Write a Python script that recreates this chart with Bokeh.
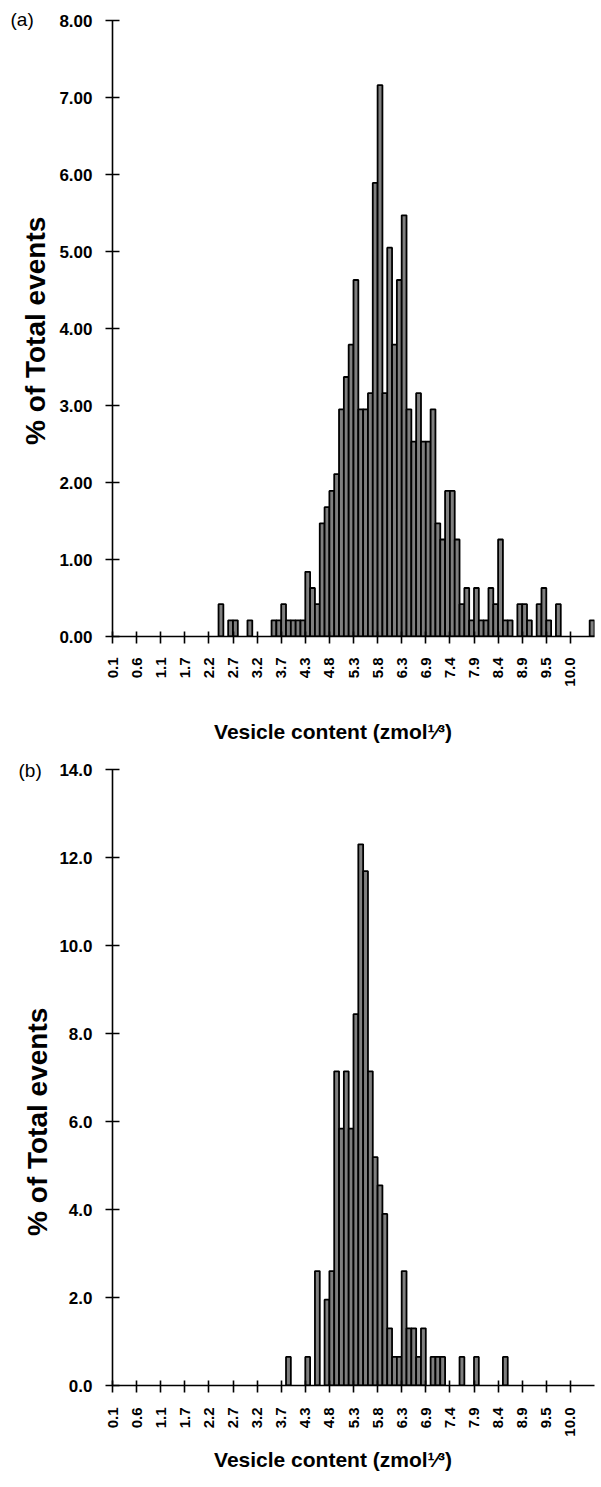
from bokeh.plotting import figure
from bokeh.layouts import column
from bokeh.models import (ColumnDataSource, FixedTicker, NumeralTickFormatter,
                          Range1d, Title)
from bokeh.embed import file_html
from bokeh.resources import INLINE

# ---------------- data ----------------
n_bins = 100
x_tick_bins = list(range(0, 100, 5))
x_tick_labels = ["0.1", "0.6", "1.1", "1.7", "2.2", "2.7", "3.2", "3.7", "4.3", "4.8",
                 "5.3", "5.8", "6.3", "6.9", "7.4", "7.9", "8.4", "8.9", "9.5", "10.0"]

# panel (a): bin index -> % of total events (non-empty bins)
a_bins = [22, 24, 25, 28, 33, 34, 35, 36, 37, 38, 39,
          40, 41, 42, 43, 44, 45, 46, 47, 48, 49,
          50, 51, 52, 53, 54, 55, 56, 57, 58, 59,
          60, 61, 62, 63, 64, 65, 66, 67, 68, 69,
          70, 71, 72, 73, 74, 75, 76, 77, 78, 79,
          80, 81, 82, 84, 85, 86, 88, 89, 90, 92, 99]
a_pct = [0.42, 0.21, 0.21, 0.21, 0.21, 0.21, 0.42, 0.21, 0.21, 0.21, 0.21,
         0.84, 0.63, 0.42, 1.47, 1.68, 1.89, 2.11, 2.95, 3.37, 3.79,
         4.63, 2.95, 2.95, 3.16, 5.89, 7.16, 3.16, 5.05, 3.79, 4.63,
         5.47, 2.95, 2.53, 3.16, 2.53, 2.53, 2.95, 1.47, 1.26, 1.89,
         1.89, 1.26, 0.42, 0.63, 0.21, 0.63, 0.21, 0.21, 0.63, 0.42,
         1.26, 0.21, 0.21, 0.42, 0.42, 0.21, 0.42, 0.63, 0.21, 0.42, 0.21]

# panel (b)
b_bins = [36, 40, 42, 44, 45, 46, 47, 48, 49, 50, 51, 52, 53, 54, 55, 56, 57,
          58, 59, 60, 61, 62, 63, 64, 66, 67, 68, 72, 75, 81]
b_pct = [0.65, 0.65, 2.60, 1.95, 2.60, 7.14, 5.84, 7.14, 5.84, 8.44, 12.30, 11.69,
         7.14, 5.19, 4.55, 3.90, 1.30, 0.65, 0.65, 2.60, 1.30, 1.30, 0.65, 1.30,
         0.65, 0.65, 0.65, 0.65, 0.65, 0.65]

a_yticks = [0, 1, 2, 3, 4, 5, 6, 7, 8]
b_yticks = [0, 2, 4, 6, 8, 10, 12, 14]

y_title = "%  of Total events"
x_title = "Vesicle content (zmol\u00b9\u2044\u00b3)"

FONT = "Liberation Sans"
PAGE_W = 601
NBSP = "\u00a0"


def make_panel(bins, pct, ymax, yticks, yfmt, tag,
               fig_h, frame_left, frame_w, frame_top, frame_h,
               tag_std, ytitle_fs, ytitle_center, ytitle_std,
               xtitle_std, xtitle_shift, xlabel_standoff):
    p = figure(width=PAGE_W, height=fig_h, output_backend="svg", toolbar_location=None,
               x_range=Range1d(0, n_bins), y_range=Range1d(0, ymax),
               min_border_left=frame_left, min_border_right=PAGE_W - frame_left - frame_w,
               min_border_top=frame_top, min_border_bottom=fig_h - frame_top - frame_h)
    p.outline_line_color = None
    p.grid.visible = False
    p.background_fill_color = "white"
    p.border_fill_color = "white"

    src = ColumnDataSource(dict(left=bins, right=[b + 1 for b in bins], top=pct))
    p.quad(left="left", right="right", bottom=0, top="top", source=src,
           fill_color="#7f7f7f", line_color="black", line_width=1.8)

    for ax in (p.xaxis, p.yaxis):
        ax.axis_line_color = "black"
        ax.axis_line_width = 1.6
        ax.major_tick_line_color = "black"
        ax.major_tick_line_width = 1.6
        ax.minor_tick_line_color = None
        ax.major_label_text_font = FONT
        ax.major_label_text_font_style = "bold"
        ax.major_label_text_color = "black"

    p.xaxis.ticker = FixedTicker(ticks=x_tick_bins)
    p.xaxis.major_label_overrides = {b: l for b, l in zip(x_tick_bins, x_tick_labels)}
    p.xaxis.major_label_orientation = 1.5707963
    p.xaxis.major_tick_in = 5
    p.xaxis.major_tick_out = 7
    p.xaxis.major_label_standoff = xlabel_standoff
    p.xaxis.major_label_text_font_size = "15px"
    # x title as axis label; trailing no-break spaces shift the centred text left
    n_pad = int(round(xtitle_shift * 2 / (0.278 * 21)))
    p.xaxis.axis_label = x_title + NBSP * n_pad
    p.xaxis.axis_label_standoff = xtitle_std
    p.xaxis.axis_label_text_font = FONT
    p.xaxis.axis_label_text_font_style = "bold"
    p.xaxis.axis_label_text_font_size = "21px"
    p.xaxis.axis_label_text_color = "black"

    p.yaxis.ticker = FixedTicker(ticks=yticks)
    p.yaxis.formatter = NumeralTickFormatter(format=yfmt)
    p.yaxis.major_tick_in = 7
    p.yaxis.major_tick_out = 7
    p.yaxis.major_label_standoff = 13
    p.yaxis.major_label_text_font_size = "17px"

    # y title (reads bottom-to-top); offset measured up from the frame bottom
    text_len = 8.1 * ytitle_fs
    start_y = ytitle_center + text_len / 2
    off = (frame_top + frame_h) - start_y
    p.add_layout(Title(text=y_title, align="left", offset=off, standoff=ytitle_std,
                       text_font=FONT, text_font_style="bold",
                       text_font_size=f"{ytitle_fs}px", text_color="black"), "left")

    # panel tag "(a)" / "(b)" as the plot title, pulled down to the axis top
    try:
        t = Title(text=tag, align="left", offset=10 - frame_left, standoff=tag_std,
                  text_font=FONT, text_font_style="normal", text_font_size="19px",
                  text_color="black")
    except Exception:
        t = Title(text=tag, align="left", offset=10 - frame_left, standoff=0,
                  text_font=FONT, text_font_style="normal", text_font_size="19px",
                  text_color="black")
    p.title = t
    return p


# figure (a): page y 0..745 ; figure (b): page y 745..1485
pa = make_panel(a_bins, a_pct, 8, a_yticks, "0.00", "(a)",
                fig_h=745, frame_left=112, frame_w=486, frame_top=20, frame_h=616,
                tag_std=-18, ytitle_fs=28, ytitle_center=331, ytitle_std=11,
                xtitle_std=30, xtitle_shift=19, xlabel_standoff=14)
pb = make_panel(b_bins, b_pct, 14, b_yticks, "0.0", "(b)",
                fig_h=740, frame_left=104, frame_w=490, frame_top=24, frame_h=616,
                tag_std=-22, ytitle_fs=28, ytitle_center=377, ytitle_std=8,
                xtitle_std=8, xtitle_shift=20, xlabel_standoff=15)

layout = column(pa, pb)
open("out.html", "w").write(file_html(layout, INLINE))
